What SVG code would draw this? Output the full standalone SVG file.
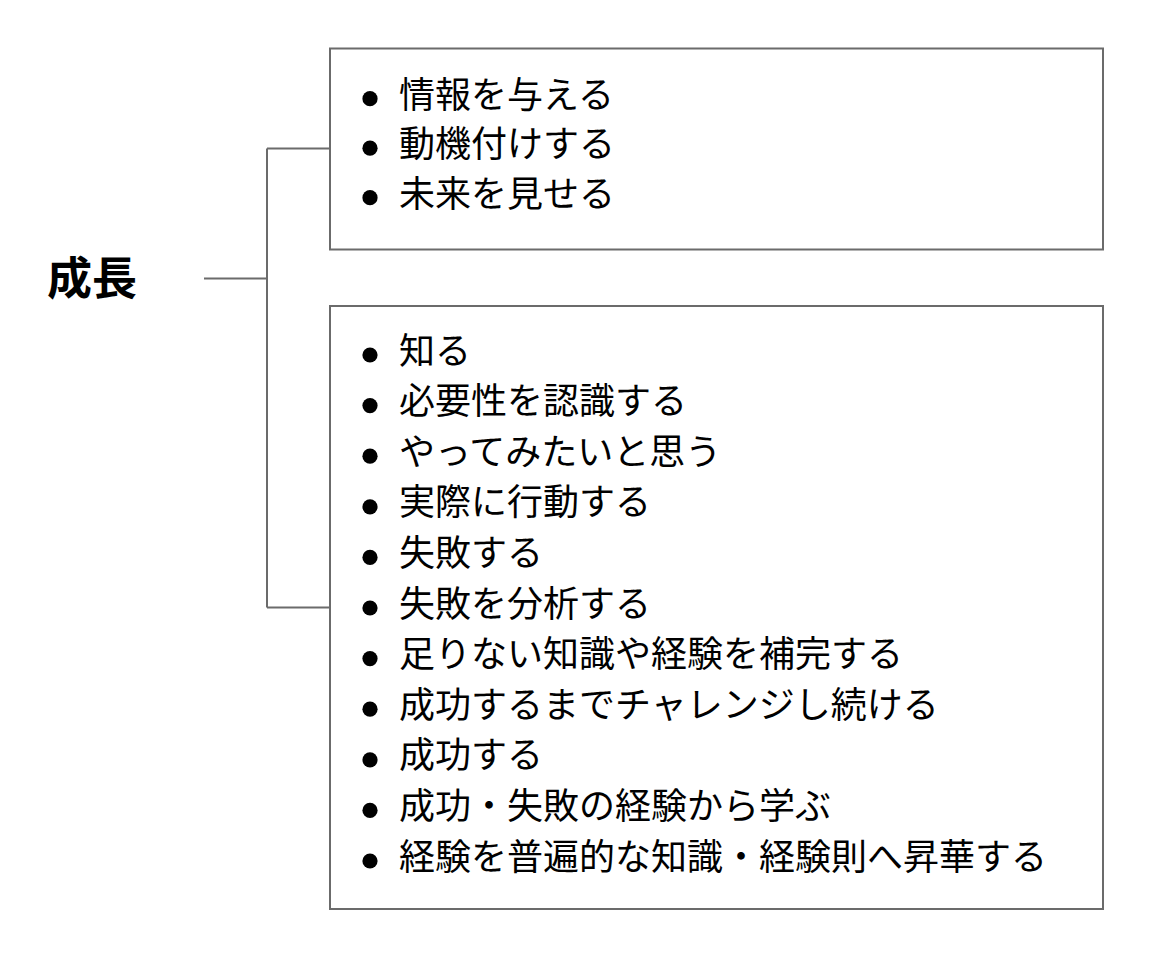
<svg xmlns="http://www.w3.org/2000/svg" width="1170" height="958" viewBox="0 0 1170 958">
<style>
.box{fill:#ffffff;stroke:#6b6b6b;stroke-width:2}
.conn{fill:none;stroke:#6b6b6b;stroke-width:2}
.item{font-family:"Noto Sans CJK JP","Noto Sans CJK SC",sans-serif;font-size:36px;fill:#000}
.root{font-family:"Noto Sans CJK JP","Noto Sans CJK SC",sans-serif;font-size:45px;font-weight:bold;fill:#000}
.dot{fill:#000}
</style>
<rect width="1170" height="958" fill="#ffffff"/>
<g id="connectors">
<path class="conn" d="M204,278.5 H267 M267,148.5 V607.5 M267,148.5 H330 M267,607.5 H330"/>
</g>
<g id="root">
<text class="root" x="47" y="295">成長</text>
</g>
<g id="box1">
<rect class="box" x="330" y="48.5" width="773" height="201"/>
<circle class="dot" cx="370" cy="98.7" r="7.6"/>
<circle class="dot" cx="370" cy="148.2" r="7.6"/>
<circle class="dot" cx="370" cy="197.7" r="7.6"/>
<text class="item" x="399" y="107.5">情報を与える</text>
<text class="item" x="399" y="157">動機付けする</text>
<text class="item" x="399" y="206.5">未来を見せる</text>
</g>
<g id="box2">
<rect class="box" x="330" y="306" width="773" height="603"/>
<circle class="dot" cx="370" cy="355" r="7.6"/>
<circle class="dot" cx="370" cy="405.6" r="7.6"/>
<circle class="dot" cx="370" cy="456.2" r="7.6"/>
<circle class="dot" cx="370" cy="506.8" r="7.6"/>
<circle class="dot" cx="370" cy="557.4" r="7.6"/>
<circle class="dot" cx="370" cy="608" r="7.6"/>
<circle class="dot" cx="370" cy="658.6" r="7.6"/>
<circle class="dot" cx="370" cy="709.2" r="7.6"/>
<circle class="dot" cx="370" cy="759.8" r="7.6"/>
<circle class="dot" cx="370" cy="810.4" r="7.6"/>
<circle class="dot" cx="370" cy="861" r="7.6"/>
<text class="item" x="399" y="363.5">知る</text>
<text class="item" x="399" y="414.1">必要性を認識する</text>
<text class="item" x="399" y="464.7">やってみたいと思う</text>
<text class="item" x="399" y="515.3">実際に行動する</text>
<text class="item" x="399" y="565.9">失敗する</text>
<text class="item" x="399" y="616.5">失敗を分析する</text>
<text class="item" x="399" y="667.1">足りない知識や経験を補完する</text>
<text class="item" x="399" y="717.7">成功するまでチャレンジし続ける</text>
<text class="item" x="399" y="768.3">成功する</text>
<text class="item" x="399" y="818.9">成功・失敗の経験から学ぶ</text>
<text class="item" x="399" y="869.5">経験を普遍的な知識・経験則へ昇華する</text>
</g>
</svg>
